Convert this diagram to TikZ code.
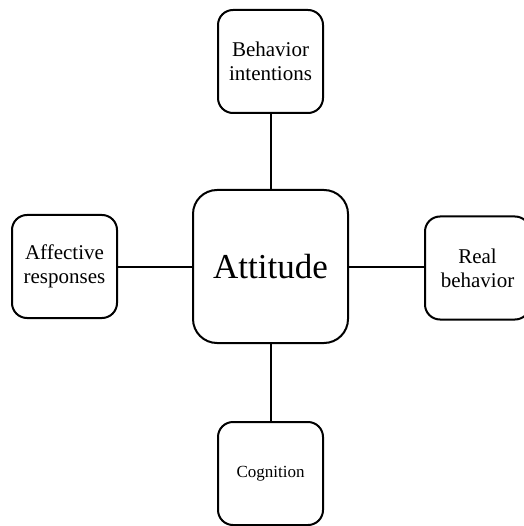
\documentclass[tikz,border=0pt]{standalone}
\usepackage{fontspec}
\setmainfont{Liberation Serif}
\begin{document}
\begin{tikzpicture}[x=1pt,y=-1pt,
  boxsmall/.style={draw=black,line width=2pt,rounded corners=15pt,fill=white,
    minimum width=105pt,minimum height=103pt,inner sep=0pt,align=center,
    font=\fontsize{21}{24}\selectfont},
  boxbig/.style={draw=black,line width=2pt,rounded corners=24pt,fill=white,
    minimum width=155pt,minimum height=153pt,inner sep=0pt,align=center,
    font=\fontsize{35}{40}\selectfont},
  link/.style={draw=black,line width=2pt}]
\useasboundingbox (0,0) rectangle (523,526);
\fill[white] (0,0) rectangle (523,526);
\node[boxbig] (att) at (270.5,266.5) {Attitude};
\node[boxsmall] (beh) at (270.5,61.5) {Behavior\\intentions};
\node[boxsmall] (aff) at (64.5,266.5) {Affective\\responses};
\node[boxsmall] (real) at (477.5,268) {Real\\behavior};
\node[boxsmall,font=\fontsize{17}{20}\selectfont] (cog) at (270.5,473.5) {Cognition};
\draw[link] (beh.south) -- (att.north);
\draw[link] (aff.east) -- (att.west);
\draw[link] (att.east) -- (real.west |- att.east);
\draw[link] (att.south) -- (cog.north);
\end{tikzpicture}
\end{document}
